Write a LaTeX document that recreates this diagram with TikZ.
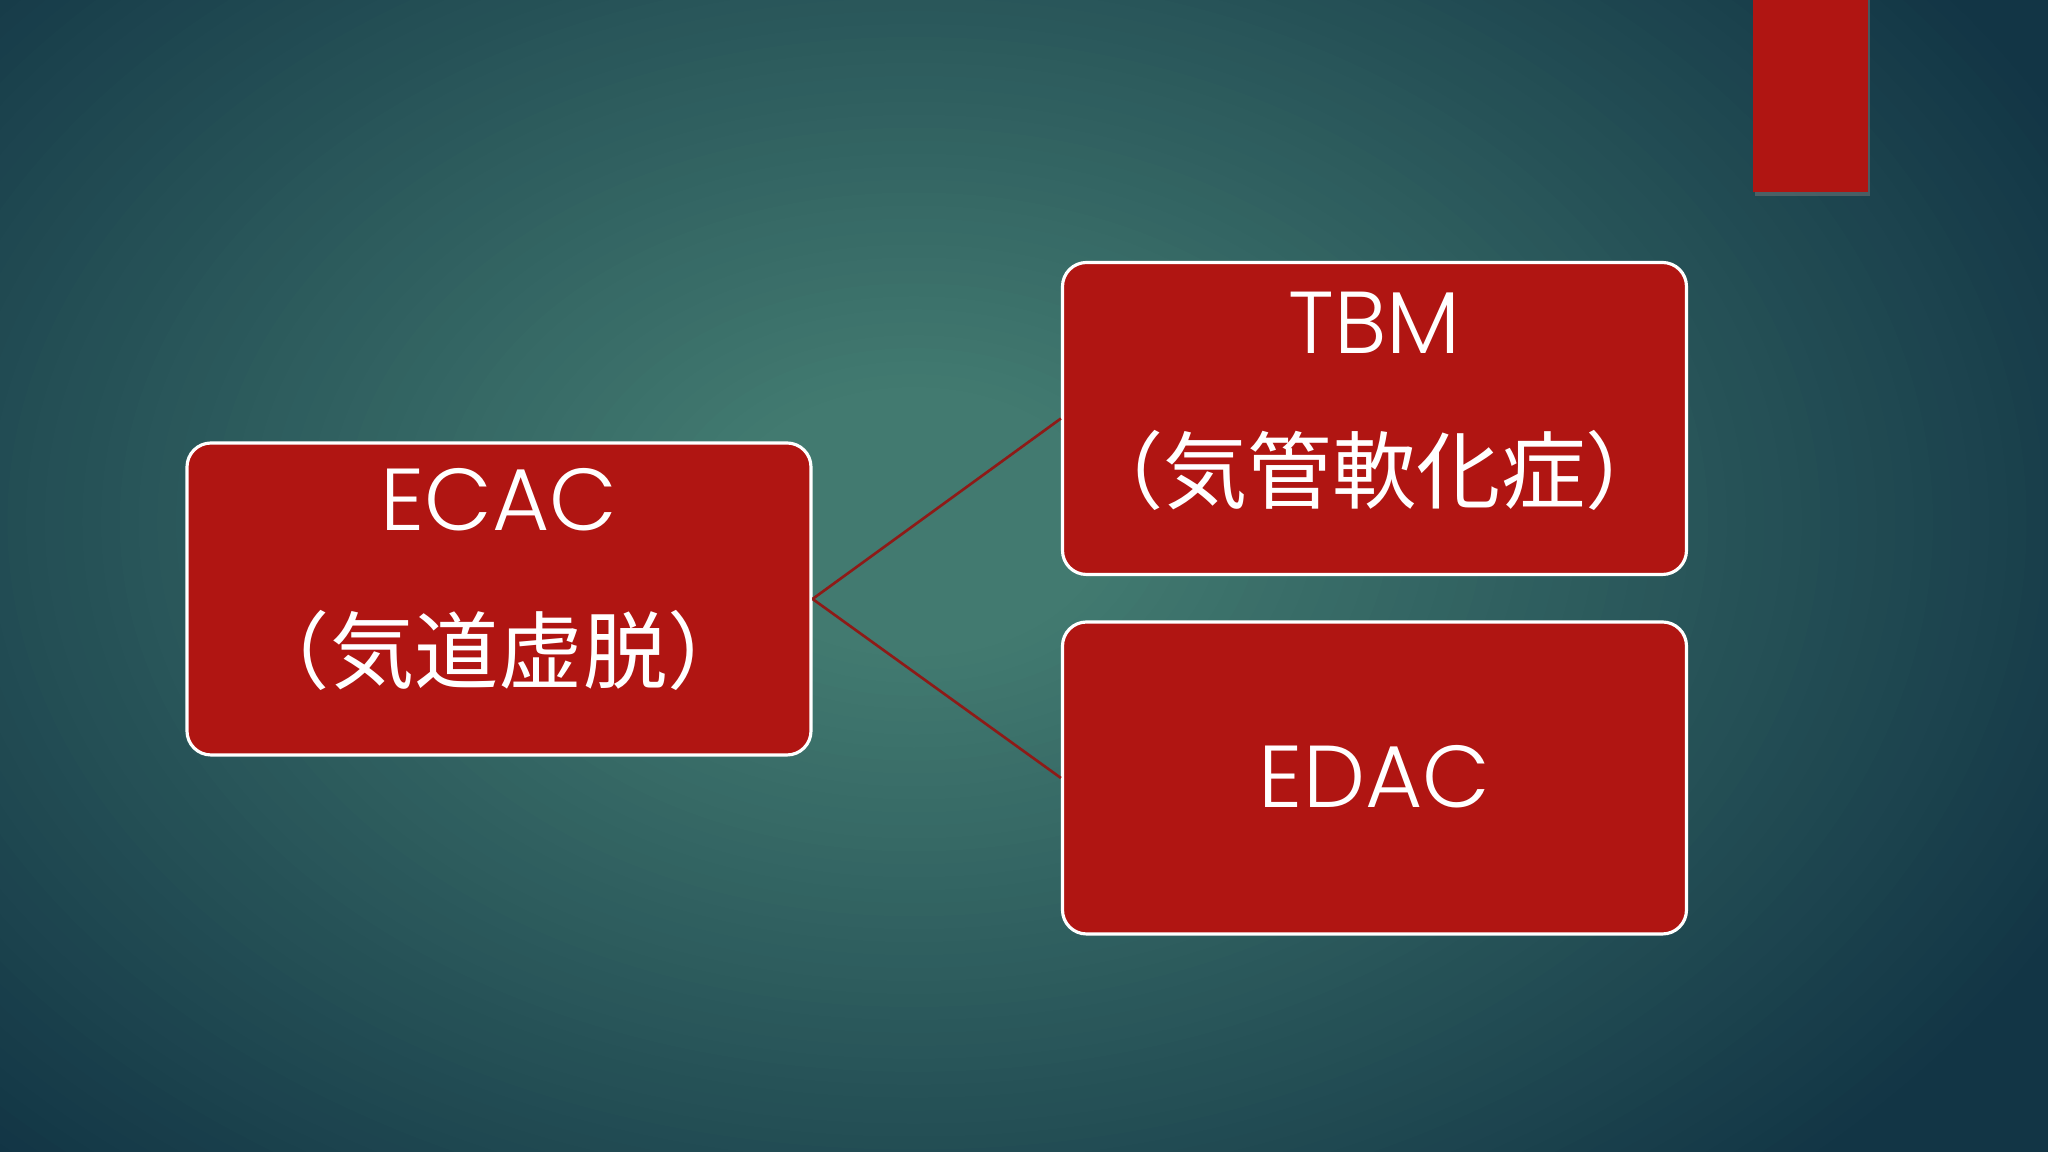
\documentclass[tikz,border=0pt]{standalone}
\usepackage{fontspec}
\IfFontExistsTF{Poppins Light}{\setmainfont{Poppins Light}}{\setmainfont{Poppins}}
\newfontfamily\jpfont{Noto Sans CJK JP}
\usetikzlibrary{positioning,shadows}
\definecolor{slidered}{HTML}{B01512}
\definecolor{linkred}{HTML}{8E1A17}
\definecolor{bgmid}{HTML}{427A70}
\definecolor{bgdark}{HTML}{123545}

\begin{document}
\begin{tikzpicture}[
    box/.style={draw=white, line width=0.9pt, fill=slidered, rounded corners=0.24cm,
      minimum width=6.24cm, minimum height=3.12cm, inner sep=0pt},
    latin/.style={text=white, font=\fontsize{25}{30}\selectfont, inner sep=0pt},
    kanji/.style={text=white, font=\jpfont\fontsize{24}{28}\selectfont, inner sep=0pt},
    link/.style={draw=linkred, line width=0.75pt}
  ]
    \useasboundingbox (0,0) rectangle (20.48,11.52);
    % background: dark base, lighter glow left of the middle
    \fill[bgdark] (0,0) rectangle (20.48,11.52);
    \begin{scope}
      \clip (0,0) rectangle (20.48,11.52);
      \foreach \k in {0,...,59} {
        \pgfmathsetmacro\f{1-\k*0.85/59}
        \pgfmathsetmacro\p{\k*100/59}
        \fill[bgmid!\p!bgdark] (9.14,6.30) ellipse ({13*\f} and {9*\f});
      }
    \end{scope}
    % red tab at the top
    \fill[slidered, drop shadow={shadow xshift=0.02cm, shadow yshift=-0.04cm, opacity=0.45}]
      (17.53,9.60) rectangle (18.68,11.60);
    % boxes
    \node[box] (ecac) at (4.99,5.53) {};
    \node[box] (tbm) at (13.745,7.335) {};
    \node[box] (edac) at (13.745,3.74) {};
    % texts
    \node[latin] (ecacname) at (4.99,6.52) {ECAC};
    \node[kanji] (ecacjp) at (4.99,5.02) {（気道虚脱）};
    \node[latin] (tbmname) at (13.745,8.29) {TBM};
    \node[kanji] (tbmjp) at (13.745,6.82) {（気管軟化症）};
    \node[latin] (edacname) at (13.745,3.75) {EDAC};
    % connectors
    \draw[link] (ecac.east) -- (tbm.west);
    \draw[link] (ecac.east) -- (edac.west);
\end{tikzpicture}
\end{document}
